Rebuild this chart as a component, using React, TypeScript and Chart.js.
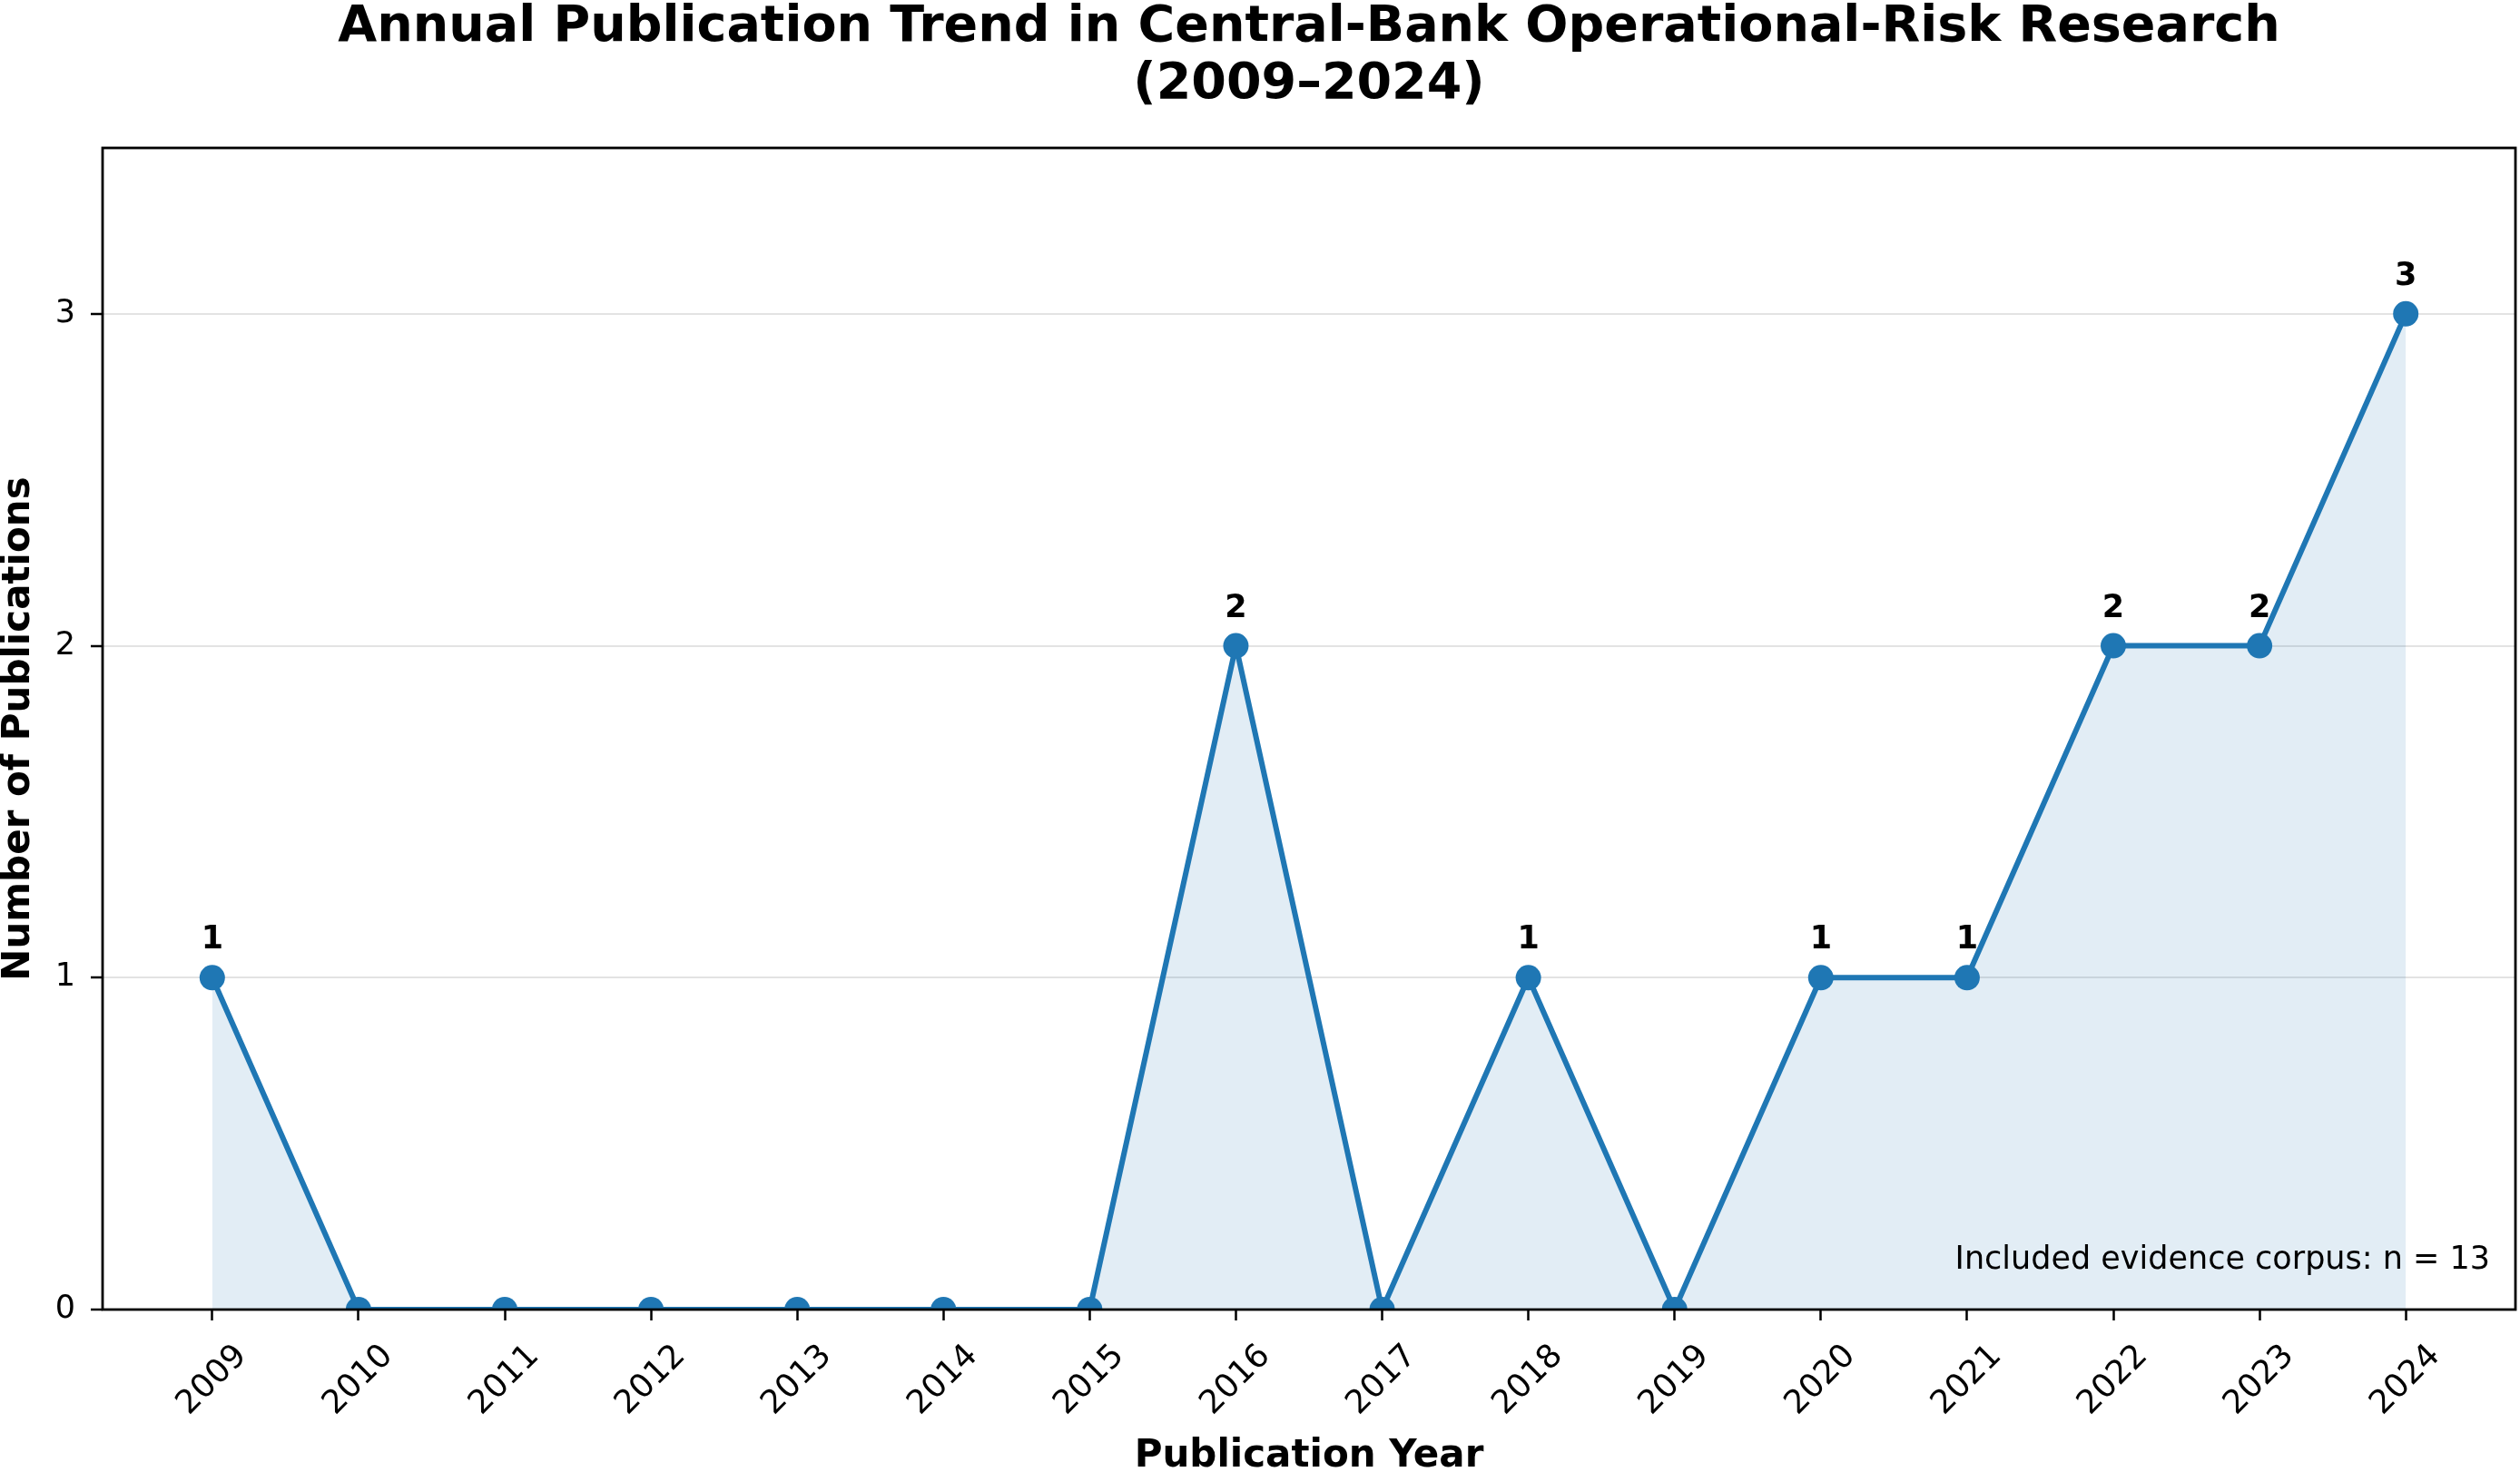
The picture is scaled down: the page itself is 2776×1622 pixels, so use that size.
import { useEffect, useRef } from 'react'
import { Chart, registerables } from 'chart.js'

Chart.register(...registerables)

const years = [2009, 2010, 2011, 2012, 2013, 2014, 2015, 2016, 2017, 2018, 2019, 2020, 2021, 2022, 2023, 2024]
const publications = [1, 0, 0, 0, 0, 0, 0, 2, 0, 1, 0, 1, 1, 2, 2, 3]
const yTicks = [0, 1, 2, 3]
const corpusNote = 'Included evidence corpus: n = 13'

const BLUE = '#1f77b4'
const FONT = 'DejaVu Sans'

// black box round the plot, drawn over the line like matplotlib spines
const framePlugin = {
  id: 'frame',
  afterDatasetsDraw(chart: any) {
    const { ctx, chartArea: a } = chart
    ctx.save()
    ctx.strokeStyle = '#000'
    ctx.lineWidth = 2.8
    ctx.strokeRect(a.left, a.top, a.right - a.left, a.bottom - a.top)
    ctx.restore()
  }
}

// value labels above the points, and the corpus note
const labelsPlugin = {
  id: 'valueLabels',
  afterDatasetsDraw(chart: any) {
    const { ctx, chartArea: a } = chart
    const meta = chart.getDatasetMeta(0)
    ctx.save()
    ctx.fillStyle = '#000'
    ctx.font = `bold 35px "${FONT}"`
    ctx.textAlign = 'center'
    ctx.textBaseline = 'alphabetic'
    meta.data.forEach((pt: any, i: number) => {
      if (publications[i] > 0) ctx.fillText(String(publications[i]), pt.x, pt.y - 32)
    })
    ctx.font = `35px "${FONT}"`
    ctx.textAlign = 'right'
    ctx.fillText(corpusNote, a.right - 28, a.bottom - 45)
    ctx.restore()
  }
}

// rotated year labels, centred on their ticks
const xLabelsPlugin = {
  id: 'xLabels',
  afterDraw(chart: any) {
    const { ctx } = chart
    const xScale = chart.scales.x
    ctx.save()
    ctx.fillStyle = '#000'
    ctx.font = `36px "${FONT}"`
    ctx.textAlign = 'center'
    ctx.textBaseline = 'middle'
    years.forEach((y) => {
      const px = xScale.getPixelForValue(y)
      ctx.save()
      ctx.translate(px, xScale.top + 78)
      ctx.rotate(-Math.PI / 4)
      ctx.fillText(String(y), 0, 0)
      ctx.restore()
    })
    ctx.restore()
  }
}

export default function App() {
  const canvasRef = useRef<HTMLCanvasElement>(null)
  const chartRef = useRef<Chart | null>(null)

  useEffect(() => {
    document.body.style.margin = '0'
    if (!canvasRef.current) return
    if (chartRef.current) chartRef.current.destroy()

    Chart.defaults.font.family = FONT
    Chart.defaults.color = '#000'

    chartRef.current = new Chart(canvasRef.current, {
      type: 'line',
      data: {
        datasets: [
          {
            label: 'Publications',
            data: years.map((y, i) => ({ x: y, y: publications[i] })),
            borderColor: BLUE,
            borderWidth: 6,
            backgroundColor: 'rgba(31,119,180,0.13)',
            fill: 'origin',
            tension: 0,
            pointRadius: 14,
            pointHoverRadius: 14,
            pointBackgroundColor: BLUE,
            pointBorderWidth: 0,
            clip: 0
          }
        ]
      },
      options: {
        animation: false,
        responsive: true,
        maintainAspectRatio: false,
        devicePixelRatio: 1,
        layout: { autoPadding: false, padding: { top: 0, right: 5, bottom: 0, left: 0 } },
        plugins: {
          legend: { display: false },
          tooltip: { enabled: false },
          title: {
            display: true,
            fullSize: false,
            text: ['Annual Publication Trend in Central-Bank Operational-Risk Research', '(2009–2024)'],
            font: { size: 55.5, weight: 'bold', lineHeight: '63px' },
            color: '#000',
            padding: { top: -1, bottom: 38 }
          }
        },
        scales: {
          x: {
            type: 'linear',
            min: 2008.25,
            max: 2024.75,
            afterBuildTicks: (scale: any) => {
              scale.ticks = years.map((v) => ({ value: v }))
            },
            afterFit: (scale: any) => {
              scale.height = 179
            },
            ticks: { display: false },
            grid: {
              drawOnChartArea: false,
              drawTicks: true,
              tickLength: 12,
              tickColor: '#000',
              tickWidth: 2.5
            },
            border: { display: false },
            title: {
              display: true,
              text: 'Publication Year',
              font: { size: 42, weight: 'bold', lineHeight: 0.8 },
              padding: 0
            }
          },
          y: {
            min: 0,
            max: 3.5,
            afterBuildTicks: (scale: any) => {
              scale.ticks = yTicks.map((v) => ({ value: v }))
            },
            afterFit: (scale: any) => {
              scale.width = 113
            },
            ticks: {
              font: { size: 35 },
              padding: 17,
              callback: (v: any) => String(v)
            },
            grid: {
              color: '#e3e3e3',
              lineWidth: 2,
              drawTicks: true,
              tickLength: 13,
              tickColor: '#000',
              tickWidth: 2.5
            },
            border: { display: false },
            title: {
              display: true,
              text: 'Number of Publications',
              font: { size: 42, weight: 'bold', lineHeight: 1 },
              padding: 0
            }
          }
        }
      },
      plugins: [framePlugin, labelsPlugin, xLabelsPlugin]
    })

    return () => {
      if (chartRef.current) {
        chartRef.current.destroy()
        chartRef.current = null
      }
    }
  }, [])

  return (
    <div style={{ position: 'relative', width: '2776px', height: '1622px', background: '#fff' }}>
      <canvas ref={canvasRef} />
    </div>
  )
}
